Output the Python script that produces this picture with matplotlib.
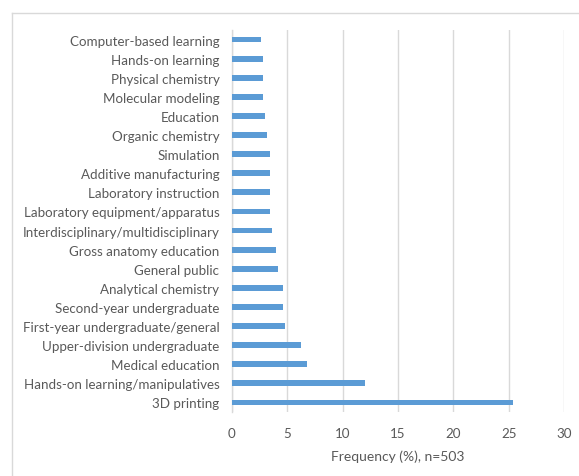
import matplotlib.pyplot as plt
from matplotlib.lines import Line2D

# Categories, top to bottom as shown
categories = [
    'Computer-based learning',
    'Hands-on learning',
    'Physical chemistry',
    'Molecular modeling',
    'Education',
    'Organic chemistry',
    'Simulation',
    'Additive manufacturing',
    'Laboratory instruction',
    'Laboratory equipment/apparatus',
    'Interdisciplinary/multidisciplinary',
    'Gross anatomy education',
    'General public',
    'Analytical chemistry',
    'Second-year undergraduate',
    'First-year undergraduate/general',
    'Upper-division undergraduate',
    'Medical education',
    'Hands-on learning/manipulatives',
    '3D printing',
]
frequency = [2.6, 2.8, 2.8, 2.8, 3.0, 3.2, 3.4, 3.4, 3.4, 3.4,
             3.6, 4.0, 4.2, 4.6, 4.6, 4.8, 6.2, 6.8, 12.0, 25.4]
xticks = [0, 5, 10, 15, 20, 25, 30]

plt.rcParams['font.family'] = ['Lato', 'DejaVu Sans']
txt = '#595959'

fig = plt.figure(figsize=(5.79, 4.77), dpi=100)
ax = fig.add_axes([232 / 579, 1 - 413 / 477, 332 / 579, 382 / 477])

ypos = list(range(len(categories)))
ax.barh(ypos, frequency, height=0.3, color='#5b9bd5', zorder=3)
ax.set_ylim(len(categories) - 0.5, -0.5)
ax.set_yticks(ypos)
ax.set_yticklabels(categories, fontsize=9.6, color=txt)
ax.set_xlim(0, 30)
ax.set_xticks(xticks)
ax.set_xticklabels([str(t) for t in xticks], fontsize=9.6, color=txt)
ax.tick_params(axis='y', length=0, pad=9)
ax.tick_params(axis='x', length=0, pad=11)
ax.grid(axis='x', color='#d9d9d9', linewidth=1, zorder=0)
for s in ['top', 'right', 'bottom']:
    ax.spines[s].set_visible(False)
ax.spines['left'].set_color('#d9d9d9')
ax.spines['left'].set_linewidth(1)
ax.set_xlabel('Frequency (%), n=503', fontsize=10, color=txt, labelpad=7)

# outer chart frame (left and top edges visible)
fig.add_artist(Line2D([12 / 579, 12 / 579], [0, 1 - 14 / 477], transform=fig.transFigure,
                      color='#d9d9d9', linewidth=1))
fig.add_artist(Line2D([12 / 579, 1], [1 - 14 / 477, 1 - 14 / 477], transform=fig.transFigure,
                      color='#d9d9d9', linewidth=1))

fig.savefig('out.png', dpi=100)
